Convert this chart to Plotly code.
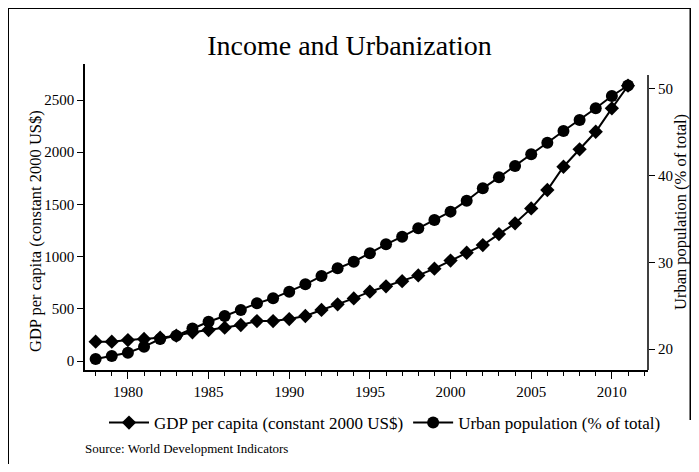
import plotly.graph_objects as go

years = list(range(1978, 2012))
gdp = [185, 185, 201, 211, 223, 243, 275, 297, 319, 345, 383, 383, 402, 431, 489, 543,
       600, 664, 715, 765, 820, 885, 962, 1037, 1111, 1216, 1319, 1462, 1638, 1861, 2028,
       2196, 2420, 2637]
urban = [18.85, 19.19, 19.58, 20.27, 21.15, 21.54, 22.38, 23.15, 23.81, 24.5, 25.27, 25.85,
         26.61, 27.46, 28.42, 29.31, 30.07, 31.05, 32.08, 32.96, 33.93, 34.88, 35.85, 37.11,
         38.54, 39.81, 41.11, 42.46, 43.8, 45.15, 46.42, 47.77, 49.19, 50.4]
x_ticks = [1980, 1985, 1990, 1995, 2000, 2005, 2010]
y1_ticks = [0, 500, 1000, 1500, 2000, 2500]
y2_ticks = [20, 30, 40, 50]

# the page body adds an 8px margin, so the figure is drawn 8px in from the window edge
OFF = 8
W, H = 699 - 2 * OFF, 472 - 2 * OFF
# plot-area edges in window pixels
L0, R0, T0, B0 = 85, 648, 64, 370
L, R, T, B = L0 - OFF, R0 - OFF, T0 - OFF, B0 - OFF
FONT = "Liberation Serif"


def px(x):
    """window pixel x -> paper coordinate"""
    return (x - L0) / (R0 - L0)


def py(y):
    """window pixel y -> paper coordinate"""
    return (B0 - y) / (B0 - T0)


fig = go.Figure()
fig.add_trace(go.Scatter(
    x=years, y=gdp, name="GDP per capita (constant 2000 US$)", mode="lines+markers",
    line=dict(color="black", width=2),
    marker=dict(symbol="diamond", size=11, color="black"),
))
fig.add_trace(go.Scatter(
    x=years, y=urban, name="Urban population (% of total)", mode="lines+markers",
    yaxis="y2",
    line=dict(color="black", width=2),
    marker=dict(symbol="circle", size=12, color="black"),
))

axis_font = dict(family=FONT, size=15, color="black")

fig.update_layout(
    width=W, height=H,
    margin=dict(l=L, r=W - R, t=T, b=H - B, autoexpand=False),
    paper_bgcolor="white", plot_bgcolor="white",
    font=dict(family=FONT, color="black"),
    title=dict(text="Income and Urbanization", x=0.5, xanchor="center", xref="container",
               y=1 - (45 - OFF) / H, yanchor="middle", yref="container",
               font=dict(family=FONT, size=28, color="black")),
    xaxis=dict(range=[1977.34, 2012.24], tickvals=x_ticks, ticks="outside", ticklen=7,
               tickwidth=1, tickcolor="black", showgrid=False, zeroline=False,
               showline=True, linecolor="black", linewidth=1.5, tickfont=axis_font,
               minor=dict(dtick=1, ticks="outside", ticklen=4, tickcolor="black", showgrid=False)),
    yaxis=dict(range=[-86, 2845], tickvals=y1_ticks, ticks="outside", ticklen=6,
               tickcolor="black", showgrid=False, zeroline=False, showline=True,
               linecolor="black", linewidth=1.5, tickfont=axis_font),
    yaxis2=dict(range=[17.58, 52.88], tickvals=y2_ticks, overlaying="y", side="right",
                ticks="outside", ticklen=6, tickcolor="black", showgrid=False,
                zeroline=False, showline=False, tickfont=axis_font),
    legend=dict(orientation="h", xref="container", x=(104 - OFF) / W, xanchor="left",
                yref="container", y=1 - (423 - OFF) / H, yanchor="middle",
                font=dict(family=FONT, size=17, color="black"), bgcolor="rgba(0,0,0,0)",
                tracegroupgap=0, itemwidth=40),
    showlegend=True,
)

# right axis line (shorter than the left one)
fig.add_shape(type="line", xref="paper", yref="paper", x0=1, x1=1, y0=0, y1=py(75),
              line=dict(color="black", width=1.5))
# outer frame
frame = dict(color="black", width=2)
fig.add_shape(type="line", xref="paper", yref="paper", x0=px(8), x1=px(8), y0=py(8), y1=py(472),
              line=frame)
fig.add_shape(type="line", xref="paper", yref="paper", x0=px(8), x1=px(691), y0=py(8), y1=py(8),
              line=frame)
fig.add_shape(type="line", xref="paper", yref="paper", x0=px(690.5), x1=px(690.5), y0=py(8),
              y1=py(420), line=frame)

fig.add_annotation(text="GDP per capita (constant 2000 US$)", textangle=-90, xref="paper",
                   yref="paper", x=px(35), y=py(231), xanchor="center", yanchor="middle",
                   showarrow=False, font=dict(family=FONT, size=16.5, color="black"))
fig.add_annotation(text="Urban population (% of total)", textangle=-90, xref="paper",
                   yref="paper", x=px(681), y=py(212), xanchor="center", yanchor="middle",
                   showarrow=False, font=dict(family=FONT, size=16.5, color="black"))
fig.add_annotation(text="Source: World Development Indicators", xref="paper", yref="paper",
                   x=px(83), y=py(448), xanchor="left", yanchor="middle", showarrow=False,
                   font=dict(family=FONT, size=13, color="black"))

fig.write_html("out.html")
